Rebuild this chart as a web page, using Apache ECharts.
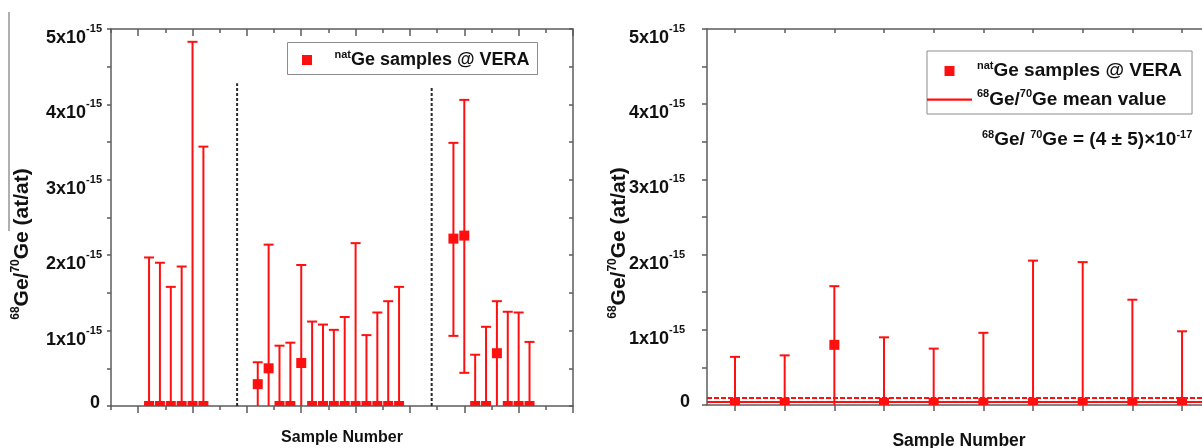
<!DOCTYPE html>
<html>
<head>
<meta charset="utf-8">
<script src="https://cdn.jsdelivr.net/npm/echarts@6/dist/echarts.min.js"></script>
<style>
  html, body { margin: 0; padding: 0; background: #fff; }
  #chart { width: 1202px; height: 448px; }
</style>
</head>
<body>
<div id="chart"></div>
<script>
// 68Ge/70Ge ratios of natural Ge samples measured at VERA.
// All ratio values are in units of 1e-15 (at/at).

// Left panel: three measurement batches.
const leftX = [3.5, 4.5, 5.5, 6.5, 7.5, 8.5,
  13.5, 14.5, 15.5, 16.5, 17.5, 18.5, 19.5, 20.5, 21.5, 22.5, 23.5, 24.5, 25.5, 26.5,
  31.5, 32.5, 33.5, 34.5, 35.5, 36.5, 37.5, 38.5];
const leftRatio = [0, 0, 0, 0, 0, 0,
  0.29, 0.50, 0, 0, 0.57, 0, 0, 0, 0, 0, 0, 0, 0, 0,
  2.22, 2.26, 0, 0, 0.70, 0, 0, 0];
const leftLow = [0, 0, 0, 0, 0, 0,
  0, 0, 0, 0, 0, 0, 0, 0, 0, 0, 0, 0, 0, 0,
  0.93, 0.44, 0, 0, 0, 0, 0, 0];
const leftHigh = [1.97, 1.90, 1.58, 1.85, 4.83, 3.44,
  0.58, 2.14, 0.80, 0.84, 1.87, 1.12, 1.08, 1.01, 1.18, 2.16, 0.94, 1.24, 1.39, 1.58,
  3.49, 4.06, 0.68, 1.05, 1.39, 1.25, 1.24, 0.85];
const batchSeparatorX = [11.6, 29.5];
const batchSeparatorTop = [4.28, 4.23];
const leftTicks = [0, 2.5, 5, 7.5, 10, 12.5, 15, 17.5, 20, 22.5, 25, 27.5, 30, 32.5, 35, 37.5, 40, 42.5];
const leftMajorTicks = [2.5, 7.5, 12.5, 17.5, 22.5, 27.5, 32.5, 37.5, 42.5];

// Right panel: ten samples and their mean value.
const rightX = [1, 2, 3, 4, 5, 6, 7, 8, 9, 10];
const rightRatio = [0.03, 0.03, 0.80, 0.03, 0.03, 0.03, 0.03, 0.03, 0.03, 0.03];
const rightLow = [0, 0, 0, 0, 0, 0, 0, 0, 0, 0];
const rightHigh = [0.64, 0.66, 1.58, 0.90, 0.75, 0.96, 1.92, 1.90, 1.40, 0.98];
const rightTicks = [1, 2, 3, 4, 5, 6, 7, 8, 9, 10];
const MEAN = 0.04;   // (4 ± 5)x10^-17
const SIGMA = 0.05;

const yTickLabels = ['0', '1', '2', '3', '4', '5'];

const SAMPLE_NAME = 'natGe samples @ VERA';
const MEAN_NAME = '68Ge/70Ge mean value';

const RED = '#ff1010';
const AXIS = '#5c5c5c';
const TEXT = '#111';
const FONT = '"Liberation Sans", Arial, sans-serif';
const CAP = 10;
const MARKER = 10;

const L_MIN = 0, L_MAX = 42.5;
const R_MIN = 0.436, R_MAX = 10.583;

const SQUARE_ICON = 'path://M0,0H10V10H0Z';
const LINE_ICON = 'path://M0,0H100V5H0Z';

const chart = echarts.init(document.getElementById('chart'), null, { renderer: 'canvas' });

function zip3(xs, a, b) { return xs.map((x, i) => [x, a[i], b[i]]); }
function zip2(xs, a) { return xs.map((x, i) => [x, a[i]]); }

function renderErrorBar(params, api) {
  const x = api.value(0), lo = api.value(1), hi = api.value(2);
  const pLo = api.coord([x, lo]);
  const pHi = api.coord([x, hi]);
  const h = CAP / 2;
  const style = { stroke: RED, lineWidth: 2 };
  const children = [
    { type: 'line', shape: { x1: pLo[0], y1: pLo[1], x2: pHi[0], y2: pHi[1] }, style },
    { type: 'line', shape: { x1: pHi[0] - h, y1: pHi[1], x2: pHi[0] + h, y2: pHi[1] }, style }
  ];
  if (lo > 0) {
    children.push({ type: 'line', shape: { x1: pLo[0] - h, y1: pLo[1], x2: pLo[0] + h, y2: pLo[1] }, style });
  }
  return { type: 'group', children };
}

function renderMarker(params, api) {
  const p = api.coord([api.value(0), api.value(1)]);
  const cs = params.coordSys;
  const rect = echarts.graphic.clipRectByRect(
    { x: p[0] - MARKER / 2, y: p[1] - MARKER / 2, width: MARKER, height: MARKER },
    { x: cs.x, y: cs.y, width: cs.width, height: cs.height }
  );
  return rect && { type: 'rect', shape: rect, style: { fill: RED } };
}

function yRich(extraRight) {
  return {
    m: { fontSize: 18, fontWeight: 'bold', fontFamily: FONT, color: TEXT, lineHeight: 18, verticalAlign: 'bottom' },
    e: { fontSize: 11, fontWeight: 'bold', fontFamily: FONT, color: TEXT, lineHeight: 36, padding: [0, extraRight, 0, 0] },
    z: { fontSize: 18, fontWeight: 'bold', fontFamily: FONT, color: TEXT, padding: [0, 2, 6, 0] }
  };
}
function yFormatter(v) {
  const i = Math.round(v);
  if (i === 0) return '{z|' + yTickLabels[0] + '}';
  return '{m|' + yTickLabels[i] + 'x10}{e|-15}';
}

const lineSt = { color: AXIS, width: 1.5 };

function xAxisDef(grid, pos, min, max, ticks, len, inside, showLine, extra) {
  return Object.assign({
    type: 'value', gridIndex: grid, position: pos, min, max,
    axisLine: { show: showLine, onZero: false, lineStyle: lineSt },
    axisTick: { show: true, inside, length: len, customValues: ticks, lineStyle: lineSt },
    axisLabel: { show: false },
    splitLine: { show: false }
  }, extra || {});
}

const superRich = (size, supSize) => ({
  s: { fontSize: supSize, fontWeight: 'bold', fontFamily: FONT, color: TEXT, lineHeight: 4, verticalAlign: 'top' },
  g: { fontSize: size, fontWeight: 'bold', fontFamily: FONT, color: TEXT, lineHeight: 22 }
});

function legendText(name) {
  if (name === SAMPLE_NAME) return '{s|nat}{g|Ge samples @ VERA}';
  return '{s|68}{g|Ge/}{s|70}{g|Ge mean value}';
}

const yNameText = '{s|68}{g|Ge/}{s|70}{g|Ge (at/at)}';
const yNameRich = {
  s: { fontSize: 12, fontWeight: 'bold', fontFamily: FONT, fill: TEXT, lineHeight: 4, verticalAlign: 'top' },
  g: { fontSize: 21, fontWeight: 'bold', fontFamily: FONT, fill: TEXT, lineHeight: 24 }
};

const meanLabel = '{s|68}{g|Ge/ }{s|70}{g|Ge = (' + Math.round(MEAN * 100) + ' \u00b1 ' +
  Math.round(SIGMA * 100) + ')\u00d710}{s|-17}';

const option = {
  animation: false,
  backgroundColor: '#fff',
  textStyle: { fontFamily: FONT },
  grid: [
    { left: 111, top: 29, width: 462, height: 377, outerBoundsMode: 'none', containLabel: false },
    { left: 707, top: 29, width: 504, height: 376, outerBoundsMode: 'none', containLabel: false }
  ],
  xAxis: [
    xAxisDef(0, 'bottom', L_MIN, L_MAX, leftTicks, 4, false, true, {
      name: 'Sample Number', nameLocation: 'middle', nameGap: 24,
      nameTextStyle: { fontSize: 16, fontWeight: 'bold', fontFamily: FONT, color: TEXT }
    }),
    xAxisDef(0, 'bottom', L_MIN, L_MAX, leftMajorTicks, 7, false, false),
    xAxisDef(0, 'top', L_MIN, L_MAX, leftTicks, 4, true, true),
    xAxisDef(0, 'top', L_MIN, L_MAX, leftMajorTicks, 7, true, false),
    xAxisDef(1, 'bottom', R_MIN, R_MAX, rightTicks, 6, false, true, {
      name: 'Sample Number', nameLocation: 'middle', nameGap: 27,
      nameTextStyle: { fontSize: 17.5, fontWeight: 'bold', fontFamily: FONT, color: TEXT }
    }),
    xAxisDef(1, 'top', R_MIN, R_MAX, rightTicks, 4, true, true)
  ],
  yAxis: [
    {
      type: 'value', gridIndex: 0, position: 'left', min: 0, max: 5, interval: 1,
      axisLine: { show: true, onZero: false, lineStyle: lineSt },
      axisTick: { show: true, inside: false, length: 4, lineStyle: lineSt },
      minorTick: { show: true, splitNumber: 2, length: 4, lineStyle: lineSt },
      splitLine: { show: false }, minorSplitLine: { show: false },
      axisLabel: { margin: 9, formatter: yFormatter, rich: yRich(0) }
    },
    {
      type: 'value', gridIndex: 0, position: 'right', min: 0, max: 5, interval: 1,
      axisLine: { show: true, onZero: false, lineStyle: lineSt },
      axisTick: { show: true, inside: true, length: 4, lineStyle: lineSt },
      minorTick: { show: true, splitNumber: 2, length: 4, lineStyle: lineSt },
      splitLine: { show: false }, minorSplitLine: { show: false },
      axisLabel: { show: false }
    },
    {
      type: 'value', gridIndex: 1, position: 'left', min: 0, max: 5, interval: 1,
      axisLine: { show: true, onZero: false, lineStyle: lineSt },
      axisTick: { show: true, inside: false, length: 5, lineStyle: lineSt },
      minorTick: { show: true, splitNumber: 2, length: 5, lineStyle: lineSt },
      splitLine: { show: false }, minorSplitLine: { show: false },
      axisLabel: { margin: 15, formatter: yFormatter, rich: yRich(7) }
    }
  ],
  legend: [
    {
      left: 302, top: 42, orient: 'vertical', itemGap: 8,
      data: [{ name: SAMPLE_NAME, icon: SQUARE_ICON }],
      itemWidth: 45, itemHeight: 10, padding: [7, 6, 6, 0],
      borderWidth: 0, selectedMode: false,
      formatter: legendText,
      textStyle: { rich: superRich(18, 11) }
    },
    {
      left: 927, top: 51, orient: 'vertical', itemGap: 8,
      data: [{ name: SAMPLE_NAME, icon: SQUARE_ICON }, { name: MEAN_NAME, icon: LINE_ICON }],
      itemWidth: 45, itemHeight: 10, padding: [9, 10, 5, 0],
      borderColor: '#8c8c8c', borderWidth: 1, selectedMode: false,
      formatter: legendText,
      textStyle: { rich: superRich(19, 11) }
    }
  ],
  series: [
    // batch separators
    ...batchSeparatorX.map((x, i) => ({
      type: 'line', xAxisIndex: 0, yAxisIndex: 0, symbol: 'none', silent: true,
      data: [[x, 0], [x, batchSeparatorTop[i]]],
      lineStyle: { color: '#2a2a2a', width: 2, type: [3, 2] }, z: 1
    })),
    {
      type: 'custom', name: SAMPLE_NAME + ' err', xAxisIndex: 0, yAxisIndex: 0,
      renderItem: renderErrorBar, data: zip3(leftX, leftLow, leftHigh),
      encode: { x: 0, y: [1, 2] }, clip: true, silent: true, z: 2
    },
    {
      type: 'custom', name: SAMPLE_NAME, xAxisIndex: 0, yAxisIndex: 0,
      renderItem: renderMarker, data: zip2(leftX, leftRatio),
      encode: { x: 0, y: 1 }, itemStyle: { color: RED }, silent: true, z: 3
    },
    {
      type: 'line', name: MEAN_NAME, xAxisIndex: 4, yAxisIndex: 2, symbol: 'none', silent: true,
      data: [[R_MIN, MEAN], [R_MAX, MEAN]],
      lineStyle: { color: RED, width: 2 }, itemStyle: { color: RED }, z: 2,
      markLine: {
        silent: true, symbol: 'none', label: { show: false },
        lineStyle: { color: RED, width: 2, type: [5, 2] },
        data: [{ yAxis: MEAN + SIGMA }, { yAxis: MEAN - SIGMA }]
      }
    },
    {
      type: 'custom', name: SAMPLE_NAME + ' err R', xAxisIndex: 4, yAxisIndex: 2,
      renderItem: renderErrorBar, data: zip3(rightX, rightLow, rightHigh),
      encode: { x: 0, y: [1, 2] }, clip: true, silent: true, z: 2
    },
    {
      type: 'custom', name: SAMPLE_NAME, xAxisIndex: 4, yAxisIndex: 2,
      renderItem: renderMarker, data: zip2(rightX, rightRatio),
      encode: { x: 0, y: 1 }, itemStyle: { color: RED }, silent: true, z: 3
    }
  ],
  graphic: [
    {
      type: 'line', silent: true,
      shape: { x1: 9, y1: 12, x2: 9, y2: 231 },
      style: { stroke: '#7a7a7a', lineWidth: 1.2 }
    },
    // frame of the left-panel legend
    {
      type: 'rect', silent: true, z: 5,
      shape: { x: 287.5, y: 42.5, width: 250, height: 32 },
      style: { fill: null, stroke: '#8c8c8c', lineWidth: 1 }
    },
    {
      type: 'text', silent: true, x: 22, y: 244, rotation: Math.PI / 2,
      style: { text: yNameText, rich: yNameRich, align: 'center', verticalAlign: 'middle' }
    },
    {
      type: 'text', silent: true, x: 619, y: 243, rotation: Math.PI / 2,
      style: { text: yNameText, rich: yNameRich, align: 'center', verticalAlign: 'middle' }
    },
    {
      type: 'text', silent: true, x: 982, y: 140,
      style: {
        text: meanLabel, align: 'left', verticalAlign: 'middle',
        rich: {
          s: { fontSize: 11, fontWeight: 'bold', fontFamily: FONT, fill: TEXT, lineHeight: 4, verticalAlign: 'top' },
          g: { fontSize: 19, fontWeight: 'bold', fontFamily: FONT, fill: TEXT, lineHeight: 22 }
        }
      }
    }
  ]
};

chart.setOption(option);
</script>
</body>
</html>
